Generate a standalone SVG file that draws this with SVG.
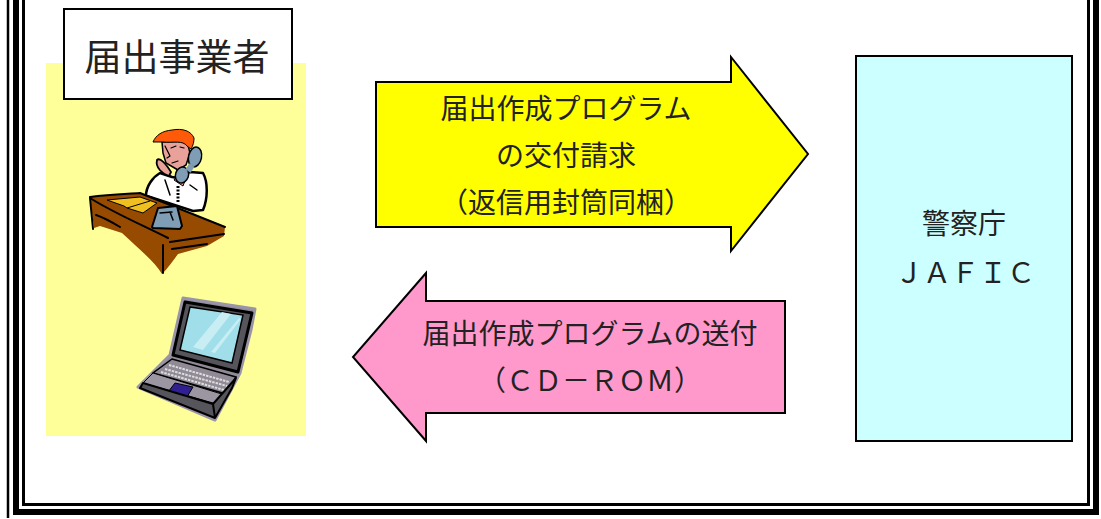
<svg xmlns="http://www.w3.org/2000/svg" width="1101" height="519" viewBox="0 0 1101 519">
<style>
text{font-family:"Noto Sans CJK JP","Liberation Sans",sans-serif;fill:#222;text-anchor:middle;font-size:28px}
.b{stroke:#000;stroke-width:2;stroke-linejoin:miter}
.k{fill:none;stroke:#000;stroke-linecap:round;stroke-linejoin:round}
</style>
<rect width="1101" height="519" fill="#fff"/>
<g id="frame" fill="none" stroke="#000">
<path d="M8 0V518" stroke-width="2.500"/>
<path d="M16 0V512H1096V0" stroke-width="6"/>
<path d="M23.500 0V504.500H1088.500V0" stroke-width="3"/>
</g>
<g id="applicant">
<rect x="46" y="63" width="260" height="373" fill="#ffff99"/>
<rect x="64" y="9" width="228" height="90" fill="#fff" class="b"/>
<text x="177" y="71" style="font-size:37px">届出事業者</text>
<g id="person">
<path d="M146 196C146 186 153 177 160 173L172 177L178 178L190 172L203 173C208 182 208 198 203 210L193 211L150 197Z" fill="#fff" stroke="#000" stroke-width="2.500" stroke-linejoin="round"/>
<path d="M178 186V203" stroke="#000" stroke-width="3" stroke-dasharray="2 1.500"/>
<path d="M165 180L170 195M190 185L197 190" class="k" stroke-width="1.500"/>
<path d="M162 142L187 141L190 153L186 165L178 170L166 163L163 153Z" fill="#e8a29a" stroke="#000" stroke-width="1.500"/>
<path d="M165 146L170 156L167 158M171 148L176 146M180 147L184 148M172 163L178 161" class="k" stroke-width="1.200"/>
<path d="M153 142C156 135 162 131 172 130C183 128 191 131 194 138C194 144 192 147 191 149L187 146C183 140 173 143 163 142Z" fill="#ff5a0a" stroke="#000" stroke-width="1"/>
<path d="M189 170L183 186L174 180L180 172Z" fill="#e8a29a" stroke="#000" stroke-width="1"/>
<ellipse cx="195" cy="157" rx="6.500" ry="10" fill="#7f9db5" stroke="#000" stroke-width="1.500" transform="rotate(12 195 157)"/>
<ellipse cx="182" cy="175" rx="6.500" ry="8" fill="#7f9db5" stroke="#000" stroke-width="1.500" transform="rotate(18 182 175)"/>
<path d="M192 165L188 171" stroke="#7f9db5" stroke-width="6"/>
<path d="M157 160C160 157 166 164 171 172L169 176C163 174 155 168 157 160Z" fill="#e8a29a" stroke="#000" stroke-width="1.800" stroke-linejoin="round"/>
<path d="M90 197L140 193L225 227L224 236L207 246L178 254C172 262 168 268 162 274C155 262 140 250 122 233L100 226L94 228Z" fill="#964b00"/>
<path d="M90 197C110 194 125 194 140 193L225 227M90 198C112 212 140 224 168 238M90 198L93 229M170 242L224 234M172 249L207 244M163 245V273M96 215C105 218 115 224 120 227" class="k" stroke-width="2"/>
<path d="M107 200L140 197L157 203L143 213L127 208L124 206Z" fill="#f0c020" stroke="#000" stroke-width="1"/>
<path d="M127 208L150 201" stroke="#000" stroke-width="1"/>
<path d="M152 227L158 208L177 206L182 226L180 229L153 228Z" fill="#7f9db5" stroke="#000" stroke-width="2" stroke-linejoin="round"/>
<path d="M160 213L172 212M170 212L173 220" class="k" stroke-width="1.500"/>
</g>
<g id="laptop">
<path d="M183 298L255 309L251 330L240 373L215 420L138 387L170 355Z" fill="#8f8a96" stroke="#9a94a8" stroke-width="3" stroke-linejoin="round"/>
<path d="M185 302L252 313L238 372L173 355Z" fill="#57555c" stroke="#000" stroke-width="3" stroke-linejoin="round"/>
<path d="M190 307L243 315L232 363L180 350Z" fill="#a0deea" stroke="#000" stroke-width="1.500"/>
<path d="M193 347L222 312L231 314L203 350ZM211 352L239 318L241 319L215 353Z" fill="#c8eef4"/>
<path d="M172 359L236 377L226 394L153 373Z" fill="#8f8a96" stroke="#000" stroke-width="1.500"/>
<path d="M169 365L229 382M165 369L227 386M161 372L224 390" fill="none" stroke="#ddd" stroke-width="2" stroke-dasharray="2.500 1"/>
<path d="M153 373L225 395L213 403L143 383Z" fill="#9b96a2" stroke="#000" stroke-width="1"/>
<path d="M175 383L193 387L187 397L168 392Z" fill="#2f1f90" stroke="#000" stroke-width="1"/>
<path d="M140 388L143 383L213 404L215 418ZM213 404L236 378L232 388L215 418" fill="#57555c" stroke="#000" stroke-width="2" stroke-linejoin="round"/>
</g>
</g>
<g id="connectors">
<path id="request" d="M376 82H731V57L808 154L731 251V227H376Z" fill="#ffff00" class="b"/>
<path id="delivery" d="M785 301H426V273L353 357L426 441V413H785Z" fill="#ff99cc" class="b"/>
</g>
<g id="request-label">
<text x="566" y="119">届出作成プログラム</text>
<text x="566" y="166">の交付請求</text>
<text x="566" y="213">（返信用封筒同梱）</text>
</g>
<g id="delivery-label">
<text x="590" y="344">届出作成プログラムの送付</text>
<text x="590" y="391">（ＣＤ－ＲＯＭ）</text>
</g>
<g id="jafic">
<rect x="856" y="56" width="216" height="385" fill="#ccffff" class="b"/>
<text x="964" y="234">警察庁</text>
<text x="965" y="283">ＪＡＦＩＣ</text>
</g>
</svg>
